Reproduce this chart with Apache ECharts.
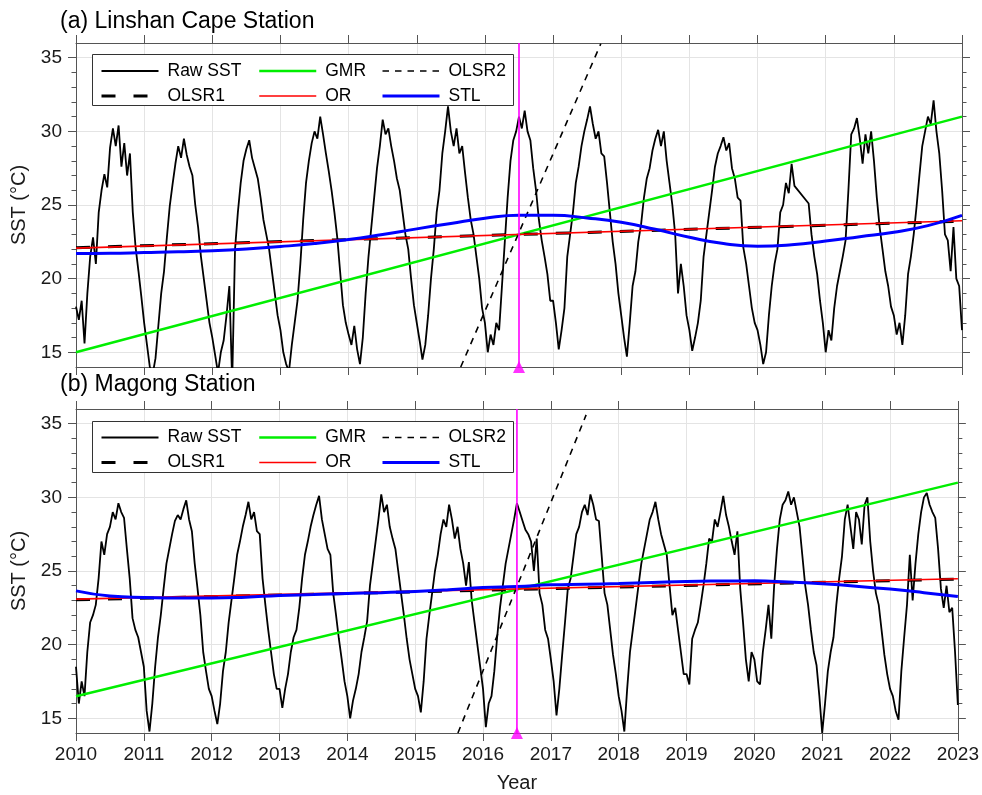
<!DOCTYPE html>
<html>
<head>
<meta charset="utf-8">
<title>SST trends: Linshan Cape and Magong stations</title>
<script src="https://cdn.jsdelivr.net/npm/echarts@6/dist/echarts.min.js"></script>
<style>
  html, body { margin: 0; padding: 0; background: #fff; }
  #chart { width: 982px; height: 795px; }
</style>
</head>
<body>
<div id="chart"></div>
<script>
// ---- Data -------------------------------------------------------------
// Raw SST, semi-monthly readings starting 2010.0 (step = 1/24 year)
const rawStart = 2010;
const rawStep = 1 / 24;

const rawLinshan = [
  18.1, 17.2, 18.5, 15.6, 19.0, 21.5, 22.8, 21.0, 24.5, 26.0, 27.1, 26.2, 28.9, 30.2, 29.0, 30.4, 27.6, 29.2, 27.0, 28.5, 24.5, 22.1, 20.5, 18.8,
  17.0, 15.5, 14.0, 13.5, 14.6, 16.8, 19.0, 20.5, 22.8, 24.9, 26.4, 27.8, 29.0, 28.2, 29.5, 28.4, 27.6, 27.0, 25.0, 23.5, 21.5, 20.0, 18.5, 17.0,
  16.0, 14.8, 13.6, 15.0, 15.8, 17.5, 19.5, 13.0, 22.0, 24.5, 26.5, 28.0, 28.8, 29.4, 28.2, 27.5, 26.8, 25.5, 24.0, 23.0, 22.0, 20.5, 19.0, 17.5,
  16.5, 15.0, 14.2, 13.7, 15.5, 17.0, 18.5, 21.0, 24.0, 26.5, 28.0, 29.2, 30.0, 29.5, 31.0, 29.8, 28.5, 27.3, 26.0, 24.5, 22.8, 20.5, 18.2, 17.0,
  16.2, 15.5, 16.8, 15.2, 14.2, 16.0, 19.0, 21.5, 23.5, 25.5, 27.5, 29.0, 30.8, 29.8, 30.2, 29.0, 28.0, 26.8, 26.0, 24.5, 23.0, 22.0, 20.0, 18.2,
  17.0, 15.8, 14.5, 15.5, 17.5, 20.0, 22.0, 24.5, 26.0, 28.5, 30.0, 31.7, 30.0, 29.0, 30.2, 28.5, 29.0, 27.2, 25.5, 24.0, 23.0, 21.5, 20.0, 18.0,
  17.0, 15.0, 16.2, 15.5, 17.0, 16.5, 19.5, 22.5, 25.5, 28.0, 29.4, 30.0, 31.0, 30.2, 31.4, 30.0, 29.4, 27.5, 26.0, 24.0, 22.6, 21.5, 20.3, 18.5,
  18.5, 17.0, 15.2, 16.5, 18.0, 21.5, 23.0, 24.5, 26.5, 27.6, 29.0, 30.0, 30.8, 31.7, 30.5, 29.5, 30.0, 28.5, 28.3, 26.5, 24.5, 22.5, 21.0, 19.0,
  17.5, 16.0, 14.7, 17.0, 19.5, 20.5, 22.5, 23.7, 25.5, 26.8, 27.5, 28.7, 29.5, 30.1, 29.0, 30.0, 28.0, 26.5, 25.0, 23.0, 19.0, 21.0, 19.5, 17.5,
  16.5, 15.1, 16.0, 17.0, 18.5, 21.5, 23.0, 24.5, 26.0, 27.6, 28.5, 29.0, 29.6, 28.7, 29.2, 27.5, 26.8, 25.5, 25.3, 22.1, 21.0, 19.5, 18.0, 17.0,
  16.5, 15.5, 14.2, 15.0, 17.5, 19.5, 21.0, 22.0, 24.5, 25.0, 26.5, 25.8, 27.8, 26.3, null, null, null, null, 25.1, 23.0, 21.5, 20.3, 18.5, 17.0,
  15.0, 16.5, 15.8, 18.0, 19.5, 20.5, 21.5, 22.6, 26.0, 29.8, 30.2, 30.9, 29.5, 27.8, 29.8, 28.5, 30.0, 28.0, 25.5, 23.5, 22.0, 20.5, 19.5, 18.1,
  17.5, 16.2, 17.0, 15.5, 17.5, 20.3, 21.5, 23.0, 24.9, 27.0, 29.0, 30.0, 31.0, 30.5, 32.1, 30.0, 28.5, 26.0, 23.0, 22.6, 20.5, 23.5, 20.0, 19.5,
  16.5
];

const rawMagong = [
  18.5, 16.0, 17.5, 16.5, 19.5, 21.5, 22.0, 22.7, 24.5, 27.0, 26.1, 27.5, 28.0, 29.0, 28.5, 29.6, 29.0, 28.6, 26.5, 24.5, 21.8, 21.0, 20.5, 19.5,
  18.5, 15.5, 14.1, 16.0, 18.5, 20.5, 22.0, 23.8, 25.5, 26.5, 27.5, 28.4, 28.8, 28.5, 29.2, 29.8, 28.5, 27.7, 25.5, 23.8, 22.0, 19.5, 18.2, 17.0,
  16.5, 15.5, 14.6, 16.0, 18.2, 19.5, 21.5, 23.0, 24.5, 26.1, 27.0, 28.0, 28.8, 29.7, 28.5, 29.0, 27.7, 27.5, 24.5, 22.7, 21.0, 19.5, 18.0, 17.0,
  17.0, 15.7, 17.0, 18.0, 19.5, 20.5, 21.0, 22.5, 24.5, 26.1, 27.0, 28.0, 28.8, 29.5, 30.1, 28.5, 27.5, 26.5, 26.1, 23.5, 22.0, 20.4, 19.0, 17.5,
  16.5, 15.0, 16.2, 17.0, 18.0, 19.5, 20.5, 21.6, 24.0, 25.5, 27.0, 28.5, 30.2, 29.0, 29.5, 28.0, 27.2, 26.5, 25.0, 23.5, 22.0, 20.4, 19.0, 18.0,
  17.0, 16.5, 15.4, 17.5, 20.4, 22.0, 23.5, 25.0, 26.1, 27.5, 28.5, 28.0, 29.5, 28.5, 27.2, 28.0, 26.5, 25.5, 24.0, 25.6, 23.0, 21.5, 20.0, 18.5,
  17.0, 14.4, 16.0, 16.5, 18.2, 20.5, 22.5, 24.0, 25.5, 26.5, 27.5, 28.5, 29.6, 29.0, 28.4, 27.8, 27.5, 27.0, 25.0, 27.2, 23.5, 22.7, 21.0, 20.4,
  19.0, 17.5, 15.2, 17.0, 19.3, 21.5, 23.8, 24.5, 26.0, 27.5, 28.0, 29.0, 29.5, 28.8, 30.2, 29.5, 28.5, 28.4, 26.0, 23.5, 22.7, 21.0, 19.3, 18.0,
  16.5, 15.5, 14.1, 17.0, 19.5, 21.0, 22.5, 24.0, 25.5, 26.5, 27.5, 28.5, 29.0, 29.7, 28.5, 27.5, 26.8, 26.1, 24.0, 22.0, 22.5, 21.0, 19.5, 18.0,
  18.0, 17.3, 20.4, 21.0, 21.5, 22.7, 24.0, 25.5, 27.2, 27.0, 28.5, 28.0, 29.0, 30.1, 28.8, 28.0, 27.0, 26.1, 27.7, 23.8, 21.5, 19.0, 17.5, 19.5,
  19.0, 17.5, 17.3, 19.5, 21.0, 22.7, 20.4, 24.0, 26.5, 28.5, 29.5, 29.8, 30.4, 29.5, 30.0, 29.0, 28.0, 26.0, 24.0, 22.7, 21.0, 19.5, 18.6, 16.5,
  14.0, 16.0, 18.2, 19.5, 20.5, 22.7, 24.5, 26.0, 28.5, 29.5, 28.0, 26.5, 29.0, 28.5, 26.8, 29.5, 30.0, 27.0, 25.0, 23.5, 22.7, 21.0, 19.3, 18.0,
  17.0, 16.5, 15.5, 14.9, 18.2, 20.5, 22.7, 26.1, 23.0, 25.5, 27.5, 29.0, 30.0, 30.3, 29.5, 29.0, 28.6, 26.5, 23.8, 22.5, 24.0, 22.2, 22.5, 19.5,
  15.9
];

// Fitted trend lines: [start, end] over 2010–2023
const fitYears = [2010, 2023];
const gmrLinshan = [15.0, 31.0];
const orLinshan = [22.07, 23.93];
const olsr1Linshan = [22.1, 23.9];
const gmrMagong = [16.5, 31.0];
const orMagong = [23.09, 24.47];
const olsr1Magong = [23.05, 24.45];

// Second-segment OLS line (after the change point)
const olsr2YearsLinshan = [2015.645, 2017.70];
const olsr2Linshan = [14.0, 35.95];
const olsr2YearsMagong = [2015.63, 2017.52];
const olsr2Magong = [14.0, 35.6];

// STL trend component, half-year samples
const stlYears = [2010, 2010.5, 2011, 2011.5, 2012, 2012.5, 2013, 2013.5, 2014, 2014.5, 2015, 2015.5, 2016, 2016.5,
                  2017, 2017.5, 2018, 2018.5, 2019, 2019.5, 2020, 2020.5, 2021, 2021.5, 2022, 2022.5, 2023];
const stlLinshan = [21.7, 21.72, 21.77, 21.82, 21.9, 22.02, 22.18, 22.38, 22.65, 23.0, 23.38, 23.75, 24.1, 24.3,
                    24.3, 24.12, 23.83, 23.35, 22.81, 22.38, 22.2, 22.3, 22.55, 22.85, 23.15, 23.6, 24.3];
const stlMagong = [23.65, 23.3, 23.2, 23.17, 23.16, 23.22, 23.34, 23.4, 23.47, 23.53, 23.61, 23.73, 23.88, 23.95,
                   24.06, 24.1, 24.15, 24.22, 24.29, 24.32, 24.33, 24.25, 24.13, 23.97, 23.77, 23.53, 23.27];

// Change point year
const changePoint = 2016.5;

// Axis ranges and tick labels
const yearMin = 2010, yearMax = 2023;
const sstMin = 14, sstMax = 36;
const sstTicks = [15, 20, 25, 30, 35];

// ---- Helpers ----------------------------------------------------------
const pairsFromSteps = vals => vals.map((v, i) => [rawStart + i * rawStep, v]);
const zipXY = (xs, ys) => xs.map((x, i) => [x, ys[i]]);

const FONT = 'Liberation Sans, Arial, Helvetica, sans-serif';
const frameColor = '#555555';
const gridColor = '#e4e4e4';
const labelColor = '#1a1a1a';

// line widths shared by plot lines and legend keys
const widths = { 'Raw SST': 1.8, 'GMR': 2.5, 'OLSR2': 1.6, 'OLSR1': 3, 'OR': 1.6, 'STL': 3 };

function xAxisFor(gridIndex, position, showLabels, name) {
  return {
    type: 'value', gridIndex, position,
    min: yearMin, max: yearMax, interval: 1,
    name: name || '', nameLocation: 'middle', nameGap: 40,
    nameTextStyle: { fontSize: 20, color: labelColor, fontFamily: FONT },
    axisLine: { show: true, onZero: false, lineStyle: { color: frameColor, width: 1 } },
    axisTick: { show: true, length: 8, lineStyle: { color: frameColor, width: 1 } },
    axisLabel: { show: showLabels, formatter: v => String(v), fontSize: 19, color: labelColor, margin: 12, fontFamily: FONT },
    splitLine: { show: position === 'bottom', lineStyle: { color: gridColor, width: 1 } }
  };
}

function yAxisFor(gridIndex, position, name) {
  const left = position === 'left';
  return {
    type: 'value', gridIndex, position,
    min: sstMin, max: sstMax,
    name: name || '', nameLocation: 'middle', nameGap: 47, nameRotate: 90,
    nameTextStyle: { fontSize: 20, color: labelColor, fontFamily: FONT },
    axisLine: { show: true, onZero: false, lineStyle: { color: frameColor, width: 1 } },
    axisTick: { show: true, length: 8, customValues: sstTicks, lineStyle: { color: frameColor, width: 1 } },
    minorTick: { show: true, splitNumber: 5, length: 4.5, lineStyle: { color: frameColor, width: 1 } },
    axisLabel: { show: left, customValues: sstTicks,
                 fontSize: 19, color: labelColor, margin: 14, fontFamily: FONT },
    splitLine: { show: left, lineStyle: { color: gridColor, width: 1 } },
    minorSplitLine: { show: false }
  };
}

function panelSeries(xi, yi, d) {
  const base = { xAxisIndex: xi, yAxisIndex: yi, symbol: 'none', silent: true, animation: false };
  return [
    Object.assign({}, base, {
      name: 'Raw SST', type: 'line', data: pairsFromSteps(d.raw), connectNulls: true, z: 2,
      lineStyle: { color: '#000000', width: widths['Raw SST'] }, itemStyle: { color: '#000000' }
    }),
    Object.assign({}, base, {
      name: 'GMR', type: 'line', data: zipXY(fitYears, d.gmr), z: 3,
      lineStyle: { color: '#00ee00', width: widths['GMR'] }, itemStyle: { color: '#00ee00' }
    }),
    Object.assign({}, base, {
      name: 'OLSR2', type: 'line', data: zipXY(d.olsr2Years, d.olsr2), z: 3,
      lineStyle: { color: '#000000', width: widths['OLSR2'], type: [6.5, 6] }, itemStyle: { color: '#000000' }
    }),
    Object.assign({}, base, {
      name: 'OLSR1', type: 'line', data: zipXY(fitYears, d.olsr1), z: 3,
      lineStyle: { color: '#000000', width: widths['OLSR1'], type: [14, 18] }, itemStyle: { color: '#000000' }
    }),
    Object.assign({}, base, {
      name: 'OR', type: 'line', data: zipXY(fitYears, d.or), z: 4,
      lineStyle: { color: '#ff0000', width: widths['OR'] }, itemStyle: { color: '#ff0000' }
    }),
    Object.assign({}, base, {
      name: 'STL', type: 'line', data: zipXY(stlYears, d.stl), smooth: true, z: 4,
      lineStyle: { color: '#0000ff', width: widths['STL'] }, itemStyle: { color: '#0000ff' }
    }),
    Object.assign({}, base, {
      name: 'Change point', type: 'line', data: [[changePoint, sstMin], [changePoint, sstMax]], z: 6,
      lineStyle: { color: '#ff00ff', width: 1.6 }, itemStyle: { color: '#ff00ff' }
    }),
    {
      name: 'Change point marker', type: 'scatter', xAxisIndex: xi, yAxisIndex: yi,
      data: [[changePoint, sstMin]], symbol: 'triangle', symbolSize: [12, 12], clip: false,
      silent: true, animation: false, z: 7, itemStyle: { color: '#ff00ff' }
    }
  ];
}

function legendsFor(top) {
  const common = {
    orient: 'vertical', top, itemWidth: 57, itemHeight: 14, itemGap: 7, padding: 0,
    selectedMode: false, z: 12,
    // line-only keys: hide the marker symbol drawn in the middle of each key
    itemStyle: { opacity: 0, borderWidth: 0 },
    textStyle: { fontSize: 17.5, color: '#000', fontFamily: FONT, padding: [0, 0, 0, 4] }
  };
  const item = name => ({ name, lineStyle: { width: widths[name] } });
  return [
    Object.assign({}, common, { left: 100, data: [item('Raw SST'), item('OLSR1')] }),
    Object.assign({}, common, { left: 258, data: [item('GMR'), item('OR')] }),
    Object.assign({}, common, { left: 381, data: [item('OLSR2'), item('STL')] })
  ];
}

const panelA = { raw: rawLinshan, gmr: gmrLinshan, or: orLinshan, olsr1: olsr1Linshan,
                 olsr2Years: olsr2YearsLinshan, olsr2: olsr2Linshan, stl: stlLinshan };
const panelB = { raw: rawMagong, gmr: gmrMagong, or: orMagong, olsr1: olsr1Magong,
                 olsr2Years: olsr2YearsMagong, olsr2: olsr2Magong, stl: stlMagong };

const option = {
  animation: false,
  backgroundColor: '#ffffff',
  textStyle: { fontFamily: FONT },
  title: [
    { text: '(a) Linshan Cape Station', left: 60, top: 10, padding: 0,
      textStyle: { fontSize: 23, fontWeight: 'normal', color: '#000', fontFamily: FONT } },
    { text: '(b) Magong Station', left: 60, top: 373, padding: 0,
      textStyle: { fontSize: 23, fontWeight: 'normal', color: '#000', fontFamily: FONT } }
  ],
  grid: [
    { left: 76, right: 20, top: 43, height: 324 },
    { left: 76, right: 20, top: 409, height: 324 }
  ],
  xAxis: [
    xAxisFor(0, 'bottom', false),
    xAxisFor(0, 'top', false),
    xAxisFor(1, 'bottom', true, 'Year'),
    xAxisFor(1, 'top', false)
  ],
  yAxis: [
    yAxisFor(0, 'left', 'SST (°C)'),
    yAxisFor(0, 'right'),
    yAxisFor(1, 'left', 'SST (°C)'),
    yAxisFor(1, 'right')
  ],
  legend: legendsFor(62).concat(legendsFor(428.5)),
  graphic: [
    { type: 'rect', z: 10, shape: { x: 92.5, y: 54.5, width: 421, height: 51 },
      style: { fill: '#ffffff', stroke: '#333333', lineWidth: 1 } },
    { type: 'rect', z: 10, shape: { x: 92.5, y: 421.5, width: 421, height: 51 },
      style: { fill: '#ffffff', stroke: '#333333', lineWidth: 1 } }
  ],
  series: panelSeries(0, 0, panelA).concat(panelSeries(2, 2, panelB))
};

const chart = echarts.init(document.getElementById('chart'), null, { renderer: 'canvas' });
chart.setOption(option);
</script>
</body>
</html>
